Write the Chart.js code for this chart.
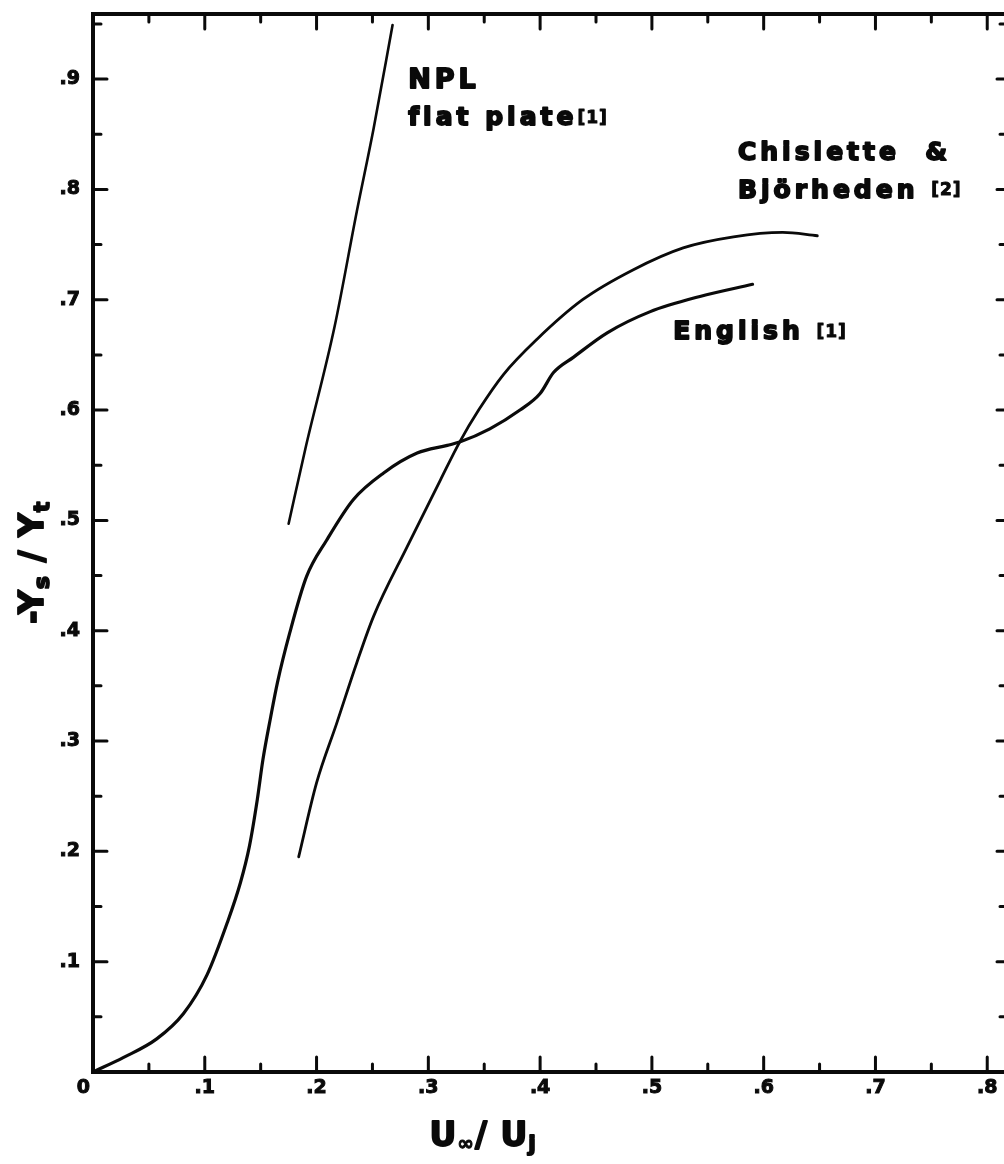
<!DOCTYPE html>
<html>
<head>
<meta charset="utf-8">
<title>-Ys/Yt against U∞/Uj</title>
<script src="https://cdn.jsdelivr.net/npm/chart.js@4.4.1/dist/chart.umd.min.js"></script>
<style>
  html, body { margin: 0; padding: 0; background: #fff; }
  canvas { display: block; }
</style>
</head>
<body>
<canvas id="chart" width="1004" height="1164"></canvas>
<script>
// ---- curves ----
const englishX = [0, 0.027, 0.057, 0.081, 0.102, 0.120, 0.132, 0.140, 0.147, 0.152, 0.159, 0.165, 0.176,
                  0.191, 0.209, 0.233, 0.260, 0.290, 0.317, 0.328, 0.355, 0.382, 0.400, 0.412, 0.430,
                  0.460, 0.498, 0.543, 0.590];
const englishY = [0, 0.013, 0.030, 0.053, 0.088, 0.135, 0.172, 0.205, 0.247, 0.283, 0.322, 0.353, 0.398,
                  0.449, 0.482, 0.519, 0.543, 0.561, 0.568, 0.571, 0.583, 0.600, 0.615, 0.634, 0.648,
                  0.670, 0.689, 0.703, 0.714];

const chisletteX = [0.184, 0.200, 0.218, 0.236, 0.251, 0.281, 0.311, 0.328, 0.345, 0.367, 0.397,
                    0.438, 0.483, 0.528, 0.573, 0.617, 0.648];
const chisletteY = [0.195, 0.262, 0.316, 0.371, 0.413, 0.476, 0.537, 0.571, 0.600, 0.632, 0.664,
                    0.700, 0.727, 0.747, 0.757, 0.761, 0.758];

const nplX = [0.175, 0.190, 0.216, 0.236, 0.251, 0.268];
const nplY = [0.497, 0.565, 0.675, 0.780, 0.855, 0.949];

// ---- axes ----
const xTickValues = [0.1, 0.2, 0.3, 0.4, 0.5, 0.6, 0.7, 0.8];
const xTickLabels = ['.1', '.2', '.3', '.4', '.5', '.6', '.7', '.8'];
const yTickValues = [0.1, 0.2, 0.3, 0.4, 0.5, 0.6, 0.7, 0.8, 0.9];
const yTickLabels = ['.1', '.2', '.3', '.4', '.5', '.6', '.7', '.8', '.9'];
const X_MAX = 0.815;
const Y_MAX = 0.959;

const pts = (xs, ys) => xs.map((x, i) => ({ x, y: ys[i] }));
const INK = '#0a0a0a';
const FONT = '"DejaVu Sans", "Liberation Sans", sans-serif';

// text runs: [text, size, baseline shift]
const notes = [
  { x: 0.282, y: 0.892, runs: [['NPL', 27, 0]] },
  { x: 0.282, y: 0.858, runs: [['flat plate', 25, 0], ['[1]', 17, -2]] },
  { x: 0.577, y: 0.827, runs: [['Chislette  &', 25, 0]] },
  { x: 0.577, y: 0.792, runs: [['Björheden ', 25, 0], ['[2]', 17, -3]] },
  { x: 0.519, y: 0.664, runs: [['English ', 25, 0], ['[1]', 17, -2]] },
];

// heavy text: fill plus a thin stroke, like the scanned lettering
function drawRuns(ctx, x, y, runs, spacing) {
  for (const [t, size, dy] of runs) {
    ctx.font = `bold ${size}px ${FONT}`;
    ctx.letterSpacing = (size > 20 ? spacing : 1) + 'px';
    ctx.lineWidth = size > 20 ? 1.8 : 1;
    ctx.fillText(t, x, y + dy);
    ctx.strokeText(t, x, y + dy);
    x += ctx.measureText(t).width;
  }
}
function runsWidth(ctx, runs, spacing) {
  let w = 0;
  for (const [t, size] of runs) {
    ctx.font = `bold ${size}px ${FONT}`;
    ctx.letterSpacing = (size > 20 ? spacing : 1) + 'px';
    w += ctx.measureText(t).width;
  }
  return w;
}

const framePlugin = {
  id: 'frame',
  afterDatasetsDraw(chart) {
    const { ctx, chartArea: a, scales: { x, y } } = chart;
    ctx.save();
    ctx.strokeStyle = INK;
    ctx.lineCap = 'round';
    // axes + top border
    ctx.lineWidth = 4;
    ctx.beginPath();
    ctx.moveTo(a.right, a.top);
    ctx.lineTo(a.left, a.top);
    ctx.lineTo(a.left, a.bottom);
    ctx.lineTo(a.right, a.bottom);
    ctx.stroke();
    // inward ticks
    ctx.lineWidth = 3;
    ctx.beginPath();
    for (let i = 1; i * 0.05 < X_MAX; i++) {
      const px = x.getPixelForValue(i * 0.05), major = i % 2 === 0;
      ctx.moveTo(px, a.bottom); ctx.lineTo(px, a.bottom - (major ? 15 : 8));
      ctx.moveTo(px, a.top);    ctx.lineTo(px, a.top + (major ? 15 : 8));
    }
    for (let i = 1; i * 0.05 < Y_MAX; i++) {
      const py = y.getPixelForValue(i * 0.05), major = i % 2 === 0;
      ctx.moveTo(a.left, py);  ctx.lineTo(a.left + (major ? 14 : 8), py);
      ctx.moveTo(a.right, py); ctx.lineTo(a.right - (major ? 7 : 4), py);
    }
    ctx.stroke();
    ctx.restore();
  },
  afterDraw(chart) {
    const { ctx, scales: { x, y } } = chart;
    ctx.save();
    ctx.fillStyle = INK;
    ctx.strokeStyle = INK;
    ctx.lineJoin = 'round';
    ctx.textBaseline = 'alphabetic';
    ctx.textAlign = 'left';
    for (const n of notes) drawRuns(ctx, x.getPixelForValue(n.x), y.getPixelForValue(n.y), n.runs, 4);

    // origin label
    ctx.font = `bold 19px ${FONT}`;
    ctx.letterSpacing = '0px';
    ctx.lineWidth = 1;
    ctx.textAlign = 'right';
    ctx.fillText('0', x.getPixelForValue(0) - 3, y.getPixelForValue(0) + 21);
    ctx.strokeText('0', x.getPixelForValue(0) - 3, y.getPixelForValue(0) + 21);
    ctx.textAlign = 'left';

    // x title  U∞/Uj
    const xRuns = [['U', 33, 0], ['∞', 20, 4], ['/ ', 33, 0], ['U', 33, 0], ['j', 22, 5]];
    const xw = runsWidth(ctx, xRuns, 1);
    drawRuns(ctx, x.getPixelForValue(0.349) - xw / 2, chart.height - 18, xRuns, 1);

    // y title  -Ys/Yt (rotated)
    const yRuns = [['-Y', 33, 0], ['s', 22, 6], [' / ', 33, 0], ['Y', 33, 0], ['t', 22, 6]];
    const yw = runsWidth(ctx, yRuns, 1);
    ctx.translate(43, y.getPixelForValue(0.462));
    ctx.rotate(-Math.PI / 2);
    drawRuns(ctx, -yw / 2, 0, yRuns, 1);
    ctx.restore();
  }
};

const line = (label, data, width) => ({
  label, data, showLine: true, borderColor: INK, borderWidth: width,
  pointRadius: 0, cubicInterpolationMode: 'monotone', fill: false, borderCapStyle: 'round'
});

const tickFont = { family: FONT, weight: 'bold', size: 19 };

new Chart(document.getElementById('chart'), {
  type: 'scatter',
  data: {
    datasets: [
      line('English [1]', pts(englishX, englishY), 3.2),
      line('Chislette & Björheden [2]', pts(chisletteX, chisletteY), 2.8),
      line('NPL flat plate [1]', pts(nplX, nplY), 2.6),
    ]
  },
  options: {
    responsive: false,
    animation: false,
    layout: { padding: { left: 0, right: 0, top: 14, bottom: 0 } },
    plugins: { legend: { display: false }, tooltip: { enabled: false } },
    scales: {
      x: {
        type: 'linear', min: 0, max: X_MAX,
        afterFit: s => { s.height = 92; s.paddingLeft = 0; s.paddingRight = 0; },
        afterBuildTicks: s => { s.ticks = xTickValues.map(v => ({ value: v })); },
        grid: { display: false, drawTicks: false },
        border: { display: false },
        ticks: {
          padding: 5, color: INK, maxRotation: 0, autoSkip: false, font: tickFont,
          textStrokeColor: INK, textStrokeWidth: 1,
          callback: (v, i) => xTickLabels[i]
        }
      },
      y: {
        type: 'linear', min: 0, max: Y_MAX,
        afterFit: s => { s.width = 93; s.paddingTop = 0; s.paddingBottom = 0; },
        afterBuildTicks: s => { s.ticks = yTickValues.map(v => ({ value: v })); },
        grid: { display: false, drawTicks: false },
        border: { display: false },
        ticks: {
          padding: 13, color: INK, autoSkip: false, font: tickFont,
          textStrokeColor: INK, textStrokeWidth: 1,
          callback: (v, i) => yTickLabels[i]
        }
      }
    }
  },
  plugins: [framePlugin]
});
</script>
</body>
</html>
